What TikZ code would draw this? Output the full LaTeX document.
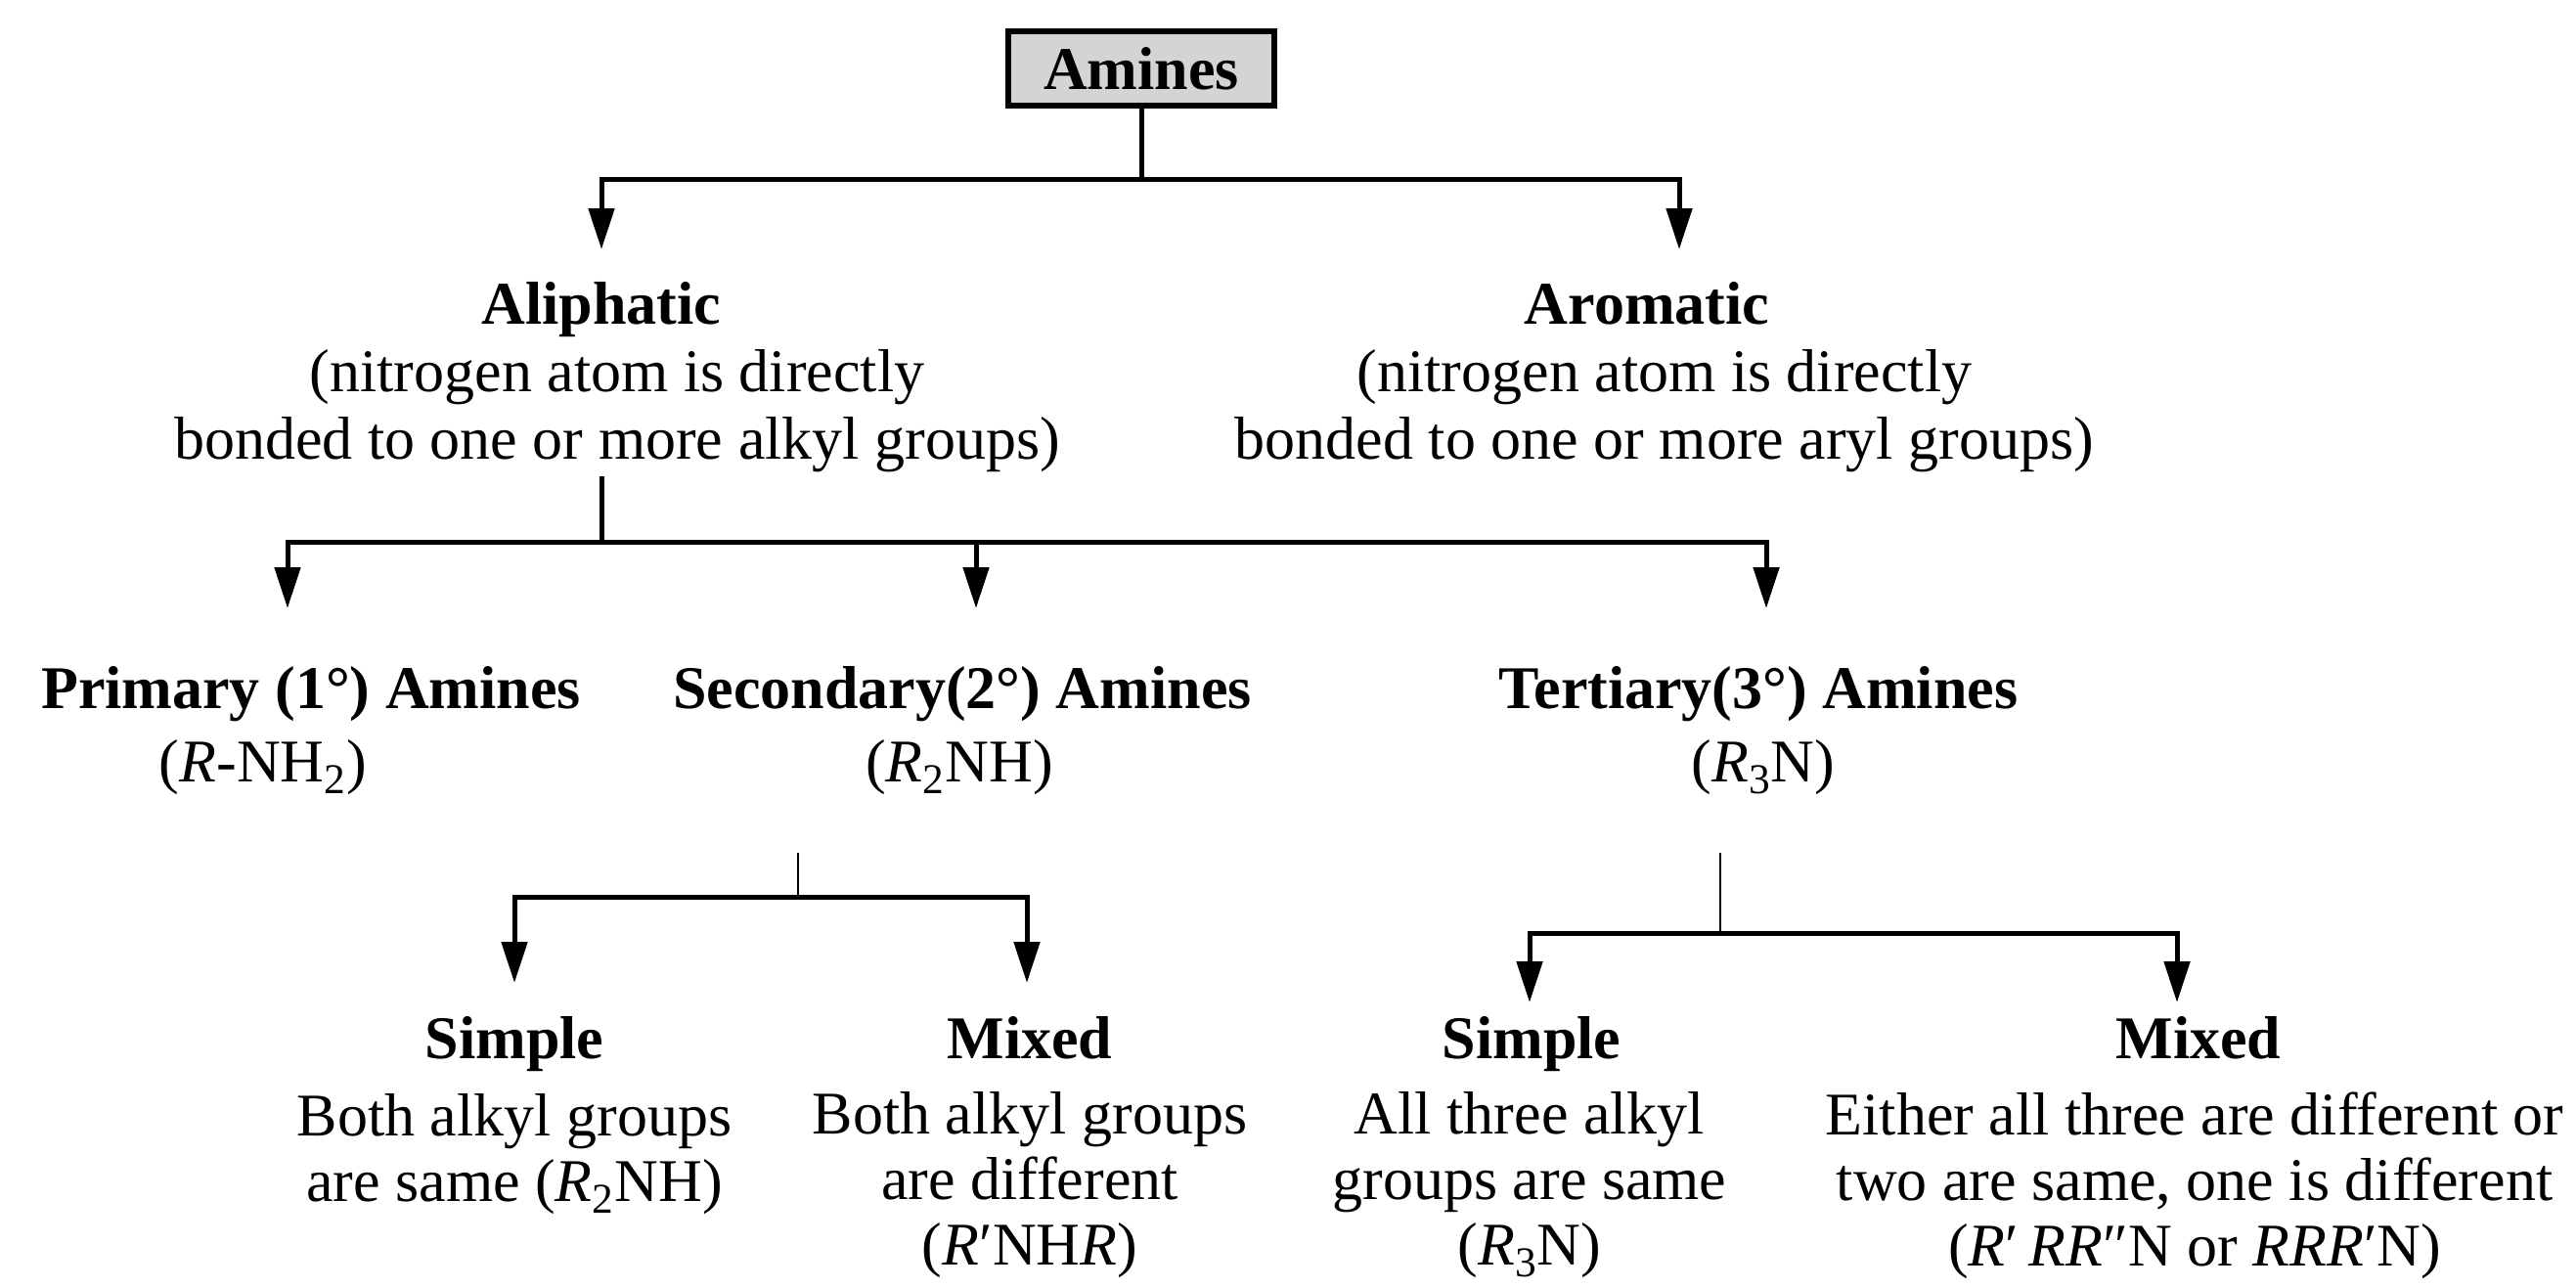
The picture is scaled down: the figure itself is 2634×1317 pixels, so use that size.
\documentclass[tikz,border=0pt]{standalone}
\usepackage{fontspec}
\setmainfont{Liberation Serif}
\usetikzlibrary{arrows.meta}
\begin{document}
\begin{tikzpicture}[x=0.5pt,y=-0.5pt,
  txt/.style={align=center, font=\fontsize{31}{33.5}\selectfont, inner sep=0pt},
  ttl/.style={inner sep=0pt, anchor=base, font=\fontsize{31}{35}\selectfont\bfseries},
  lw/.style={line width=2.5pt},
  thin line/.style={line width=1.1pt},
  conn/.style={line width=2.5pt, -{Triangle[length=21pt,width=13pt]}},
  box/.style={draw, line width=2.6pt, fill=black!17, minimum width=136pt, minimum height=38pt, inner sep=0pt, font=\fontsize{31}{35}\selectfont\bfseries}]
\useasboundingbox (0,0) rectangle (2634,1317);
\fill[white] (0,0) rectangle (2634,1317);

% nodes
\node[box] (amines) at (1167,70) {Amines};
\node[ttl] (aliT) at (615,331) {Aliphatic};
\node[txt, font=\fontsize{31}{34.5}\selectfont] (aliB) at (631,420) {(nitrogen atom is directly\\bonded to one or more alkyl groups)};
\node[ttl] (aroT) at (1684,331) {Aromatic};
\node[txt, font=\fontsize{31}{34.5}\selectfont] (aroB) at (1702,420) {(nitrogen atom is directly\\bonded to one or more aryl groups)};

\node[ttl] (primT) at (318,724) {Primary (1°) Amines};
\node[txt] (primF) at (269,785) {(\textit{R}-NH\textsubscript{2})};
\node[ttl] (secT) at (984,724) {Secondary(2°) Amines};
\node[txt] (secF) at (981,785) {(\textit{R}\textsubscript{2}NH)};
\node[ttl] (terT) at (1798,724) {Tertiary(3°) Amines};
\node[txt] (terF) at (1803,785) {(\textit{R}\textsubscript{3}N)};

\node[ttl] (sSimT) at (526,1082) {Simple};
\node[txt] (sSimB) at (526,1180) {Both alkyl groups\\are same (\textit{R}\textsubscript{2}NH)};
\node[ttl] (sMixT) at (1053,1082) {Mixed};
\node[txt] (sMixB) at (1053,1212) {Both alkyl groups\\are different\\(\textit{R}′NH\textit{R})};
\node[ttl] (tSimT) at (1566,1082) {Simple};
\node[txt] (tSimB) at (1564,1212) {All three alkyl\\groups are same\\(\textit{R}\textsubscript{3}N)};
\node[ttl] (tMixT) at (2248,1082) {Mixed};
\node[txt] (tMixB) at (2244,1212) {Either all three are different or\\two are same, one is different\\(\textit{R}′\,\textit{RR}″N or \textit{RRR}′N)};

% junctions and tips
\coordinate (j1) at (1167,183);
\coordinate (tAli) at (615,255);
\coordinate (tAro) at (1717,255);
\coordinate (s2) at (615,487);
\coordinate (j2) at (615,554);
\coordinate (tPri) at (294,622);
\coordinate (tSec) at (998,622);
\coordinate (tTer) at (1806,622);
\coordinate (s3) at (816,872);
\coordinate (j3) at (816,917);
\coordinate (tSS) at (526,1005);
\coordinate (tSM) at (1050,1005);
\coordinate (s4) at (1759,872);
\coordinate (j4) at (1759,954);
\coordinate (tTS) at (1564,1025);
\coordinate (tTM) at (2226,1025);

% connectors
\draw[lw] (amines.south) -- (j1);
\draw[conn] (j1) -| (tAli);
\draw[conn] (j1) -| (tAro);
\draw[lw] (s2) -- (j2);
\draw[conn] (j2) -| (tPri);
\draw[conn] (j2) -| (tSec);
\draw[conn] (j2) -| (tTer);
\draw[thin line] (s3) -- (j3);
\draw[conn] (j3) -| (tSS);
\draw[conn] (j3) -| (tSM);
\draw[thin line] (s4) -- (j4);
\draw[conn] (j4) -| (tTS);
\draw[conn] (j4) -| (tTM);
\end{tikzpicture}
\end{document}
